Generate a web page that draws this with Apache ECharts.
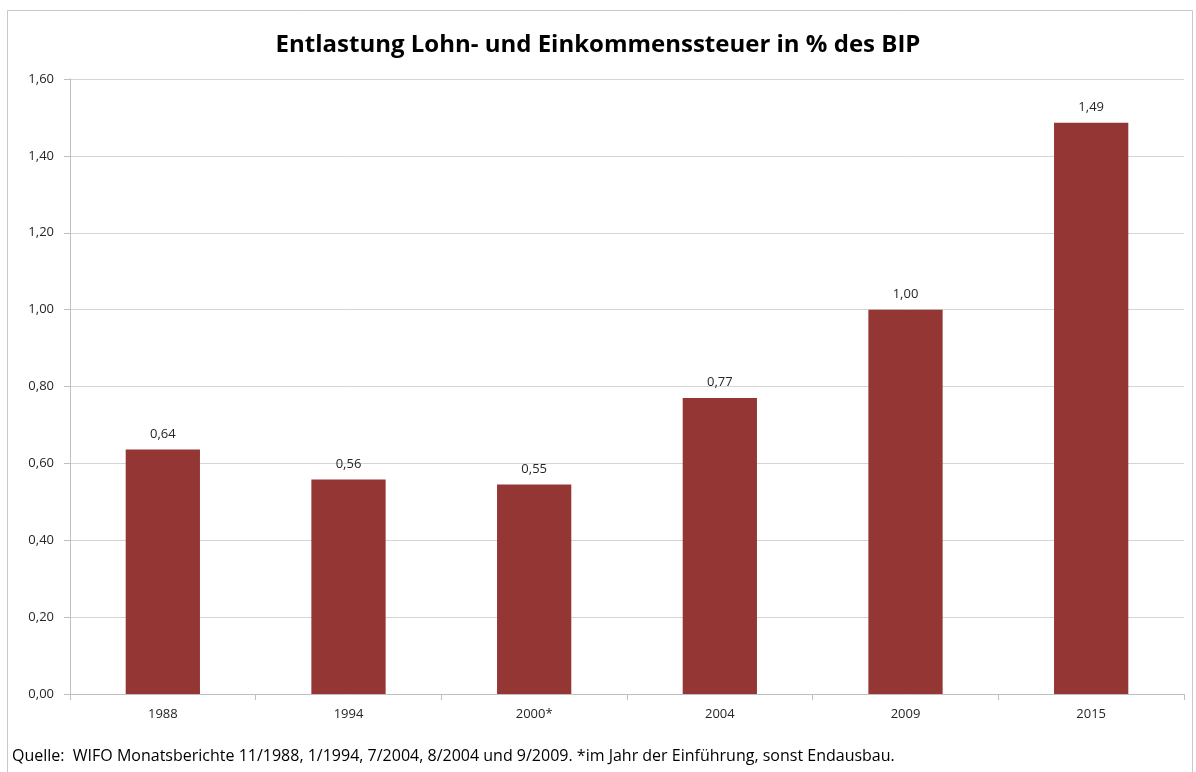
<!DOCTYPE html>
<html>
<head>
<meta charset="utf-8">
<script src="https://cdn.jsdelivr.net/npm/echarts@6/dist/echarts.min.js"></script>
<style>
html,body{margin:0;padding:0;background:#fff;}
#chart{width:1196px;height:772px;}
</style>
</head>
<body>
<div id="chart"></div>
<script>
const titleText = 'Entlastung Lohn- und Einkommenssteuer in % des BIP';
const categories = ['1988', '1994', '2000*', '2004', '2009', '2015'];
const values = [0.636, 0.558, 0.545, 0.770, 1.000, 1.486];
const yTicks = { min: 0, max: 1.6, interval: 0.2 };
const footnote = 'Quelle:  WIFO Monatsberichte 11/1988, 1/1994, 7/2004, 8/2004 und 9/2009. *im Jahr der Einführung, sonst Endausbau.';

const fmt = v => v.toFixed(2).replace('.', ',');
const font = '"Open Sans", "Noto Sans", sans-serif';

const chart = echarts.init(document.getElementById('chart'), null, { renderer: 'canvas' });
chart.setOption({
  animation: false,
  backgroundColor: '#ffffff',
  title: {
    text: titleText,
    left: 'center',
    top: 28,
    textStyle: { fontFamily: font, fontSize: 24, fontWeight: 'bold', color: '#000' }
  },
  graphic: [
    { type: 'rect', shape: { x: 7.5, y: 10.5, width: 1185, height: 770 }, style: { fill: 'none', stroke: '#c8c8c8', lineWidth: 1 }, silent: true },
    { type: 'text', left: 12, top: 748, style: { text: footnote, fontFamily: font, fontSize: 16, fill: '#000' } }
  ],
  grid: { left: 70, right: 12, top: 79, bottom: 78, containLabel: false },
  xAxis: {
    type: 'category',
    data: categories,
    axisLine: { show: true, lineStyle: { color: '#bfbfbf', width: 1 } },
    axisTick: { show: true, length: 6, lineStyle: { color: '#bfbfbf' } },
    axisLabel: { fontFamily: font, fontSize: 13, color: '#262626', margin: 14 }
  },
  yAxis: {
    type: 'value',
    min: yTicks.min, max: yTicks.max, interval: yTicks.interval,
    axisLine: { show: true, lineStyle: { color: '#bfbfbf', width: 1 } },
    axisTick: { show: true, length: 6, lineStyle: { color: '#bfbfbf' } },
    splitLine: { show: true, lineStyle: { color: '#d4d4d4', width: 1 } },
    axisLabel: { fontFamily: font, fontSize: 13, color: '#262626', margin: 16, formatter: v => fmt(v) }
  },
  series: [{
    type: 'bar',
    data: values,
    barWidth: '40%',
    itemStyle: { color: '#943634' },
    label: {
      show: true, position: 'top', distance: 9,
      fontFamily: font, fontSize: 13, color: '#262626',
      formatter: p => fmt(p.value)
    }
  }]
});
</script>
</body>
</html>
